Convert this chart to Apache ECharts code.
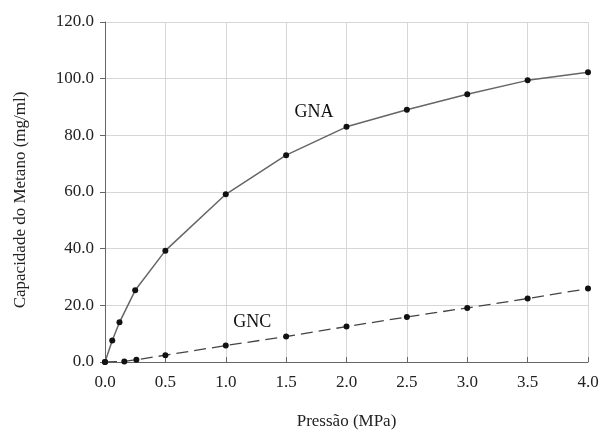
<!DOCTYPE html>
<html>
<head>
<meta charset="utf-8">
<script src="https://cdn.jsdelivr.net/npm/echarts@6/dist/echarts.min.js"></script>
<style>
  html, body { margin: 0; padding: 0; background: #fff; }
</style>
</head>
<body>
<div id="main" style="width:600px;height:432px;"></div>
<script>
// pressao (MPa) e capacidade (mg/ml)
var gnaX = [0, 0.06, 0.12, 0.25, 0.5, 1.0, 1.5, 2.0, 2.5, 3.0, 3.5, 4.0];
var gnaY = [0, 7.6, 14.0, 25.3, 39.3, 59.2, 73.0, 83.0, 89.0, 94.5, 99.4, 102.3];
var gncX = [0, 0.16, 0.26, 0.5, 1.0, 1.5, 2.0, 2.5, 3.0, 3.5, 4.0];
var gncY = [0, 0.2, 0.8, 2.4, 5.8, 9.0, 12.5, 15.9, 19.1, 22.4, 25.9];
var xTicks = [0, 0.5, 1.0, 1.5, 2.0, 2.5, 3.0, 3.5, 4.0];
var yTicks = [0, 20, 40, 60, 80, 100, 120];

function pares(xs, ys) {
  return xs.map(function (x, i) { return [x, ys[i]]; });
}

var serif = '"Liberation Serif", "DejaVu Serif", serif';

var myChart = echarts.init(document.getElementById('main'));
var option = {
  animation: false,
  textStyle: { fontFamily: serif },
  grid: { left: 105, right: 12, top: 22, bottom: 70, outerBoundsMode: 'none', containLabel: false },
  xAxis: {
    type: 'value',
    min: xTicks[0],
    max: xTicks[xTicks.length - 1],
    interval: 0.5,
    name: 'Pressão (MPa)',
    nameLocation: 'middle',
    nameGap: 51,
    nameTextStyle: { fontFamily: serif, fontSize: 17, color: '#222' },
    axisLine: { lineStyle: { color: '#666', width: 1 } },
    axisTick: { inside: true, length: 5, lineStyle: { color: '#666' } },
    axisLabel: {
      fontFamily: serif, fontSize: 17, color: '#222', margin: 12,
      formatter: function (v) { return v.toFixed(1); }
    },
    splitLine: { show: true, lineStyle: { color: '#d6d6d6', width: 1 } }
  },
  yAxis: {
    type: 'value',
    min: yTicks[0],
    max: yTicks[yTicks.length - 1],
    interval: 20,
    name: 'Capacidade do Metano (mg/ml)',
    nameLocation: 'middle',
    nameGap: 76,
    nameTextStyle: { fontFamily: serif, fontSize: 17, color: '#222', padding: [0, 16, 0, 0] },
    axisLine: { show: true, lineStyle: { color: '#666', width: 1 } },
    axisTick: { show: true, length: 5, lineStyle: { color: '#666' } },
    axisLabel: {
      fontFamily: serif, fontSize: 17, color: '#222', margin: 11,
      formatter: function (v) { return v.toFixed(1); }
    },
    splitLine: { show: true, lineStyle: { color: '#d6d6d6', width: 1 } }
  },
  series: [
    {
      name: 'GNA',
      type: 'line',
      data: pares(gnaX, gnaY),
      symbol: 'circle',
      symbolSize: 6,
      itemStyle: { color: '#111' },
      lineStyle: { color: '#666', width: 1.5 },
      markPoint: {
        symbol: 'circle', symbolSize: 0,
        label: { show: true, formatter: 'GNA', fontFamily: serif, fontSize: 18, color: '#111' },
        data: [{ coord: [1.73, 88.3] }]
      }
    },
    {
      name: 'GNC',
      type: 'line',
      data: pares(gncX, gncY),
      symbol: 'circle',
      symbolSize: 6,
      itemStyle: { color: '#111' },
      lineStyle: { color: '#444', width: 1.3, type: [12, 6] },
      markPoint: {
        symbol: 'circle', symbolSize: 0,
        label: { show: true, formatter: 'GNC', fontFamily: serif, fontSize: 18, color: '#111' },
        data: [{ coord: [1.22, 13.9] }]
      }
    }
  ]
};
myChart.setOption(option);
</script>
</body>
</html>
